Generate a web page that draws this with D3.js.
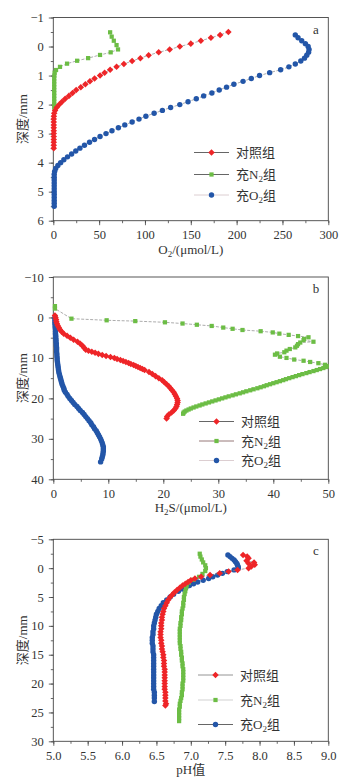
<!DOCTYPE html>
<html>
<head>
<meta charset="utf-8">
<script src="https://cdn.jsdelivr.net/npm/d3@7"></script>
<style>
  body { margin: 0; background: #fff; }
  svg text { font-family: "Liberation Serif", "Noto Sans CJK SC", serif; fill: #333; }
</style>
</head>
<body>
<svg id="viz" width="345" height="782"></svg>
<script>
// series labels
var groups = ["对照组", "充N2组", "充O2组"];

// panel a: O2 (umol/L) by depth (mm), pairs [depth, value]
var aCtrl = [[-0.5,191],[-0.4,182],[-0.3,172],[-0.2,161],[-0.1,150],[0,138],[0.1,127],[0.2,115],[0.3,104],[0.4,95],[0.5,86],[0.6,77],[0.7,69],[0.8,62],[0.9,56],[1.0,51],[1.1,45],[1.2,40],[1.3,35],[1.4,30],[1.5,25],[1.6,21],[1.7,17],[1.8,13],[1.9,9.5],[2.0,6.5],[2.1,3.7],[2.2,1.9],[2.3,1],[2.4,0.6],[2.5,0.5],[2.6,0.5],[2.7,0.5],[2.8,0.5],[2.9,0.5],[3.0,0.5],[3.1,0.5],[3.2,0.5],[3.3,0.5],[3.4,0.5],[3.5,0.5]];
var aN2 = [[-0.49,62],[-0.34,63.7],[-0.2,66],[-0.05,69],[0.1,70.6],[0.2,62.6],[0.29,51],[0.4,38],[0.49,26],[0.59,15],[0.7,7.3],[0.81,3],[0.9,1.5],[1.0,1.2],[1.1,1],[1.2,1],[1.3,1],[1.4,1],[1.5,1],[1.6,1],[1.7,1],[1.8,1],[1.9,1],[2.0,1],[2.1,1]];
var aO2 = [[-0.4,264],[-0.3,267],[-0.2,271],[-0.1,275],[0,278],[0.1,279],[0.2,278.5],[0.3,276.5],[0.4,274],[0.5,270],[0.6,264],[0.7,257],[0.8,248],[0.9,236],[1.0,225],[1.1,216],[1.2,207],[1.3,197],[1.4,189],[1.5,181],[1.6,173],[1.7,164],[1.8,156],[1.9,147],[2.0,138],[2.1,128],[2.2,119],[2.3,110],[2.4,101],[2.5,93.5],[2.6,86],[2.7,78],[2.8,71],[2.9,64],[3.0,57.5],[3.1,51],[3.2,45],[3.3,39.5],[3.4,34],[3.5,29],[3.6,24.5],[3.7,20],[3.8,15.5],[3.9,11.5],[4.0,8],[4.1,5],[4.2,2.6],[4.3,1.5],[4.4,1],[4.5,1],[4.6,1],[4.7,1],[4.8,1],[4.9,1],[5.0,1],[5.1,1],[5.2,1],[5.3,1],[5.4,1],[5.5,1]];

// panel b: H2S (umol/L) by depth (mm)
var bCtrl = [[-0.5,0.3],[0,0.4],[0.5,0.5],[1,0.55],[1.5,0.65],[2,0.8],[2.5,1.0],[3,1.2],[3.5,1.5],[4,1.9],[4.5,2.5],[5,3.1],[5.5,3.7],[6,4.4],[6.5,4.9],[7,5.3],[7.5,5.6],[8,5.9],[8.25,6.4],[8.5,7.0],[8.75,7.6],[9,8.2],[9.25,8.9],[9.5,9.6],[9.75,10.4],[10,11.1],[10.25,11.6],[10.5,12.2],[10.75,12.7],[11,13.2],[11.25,13.7],[11.5,14.1],[11.75,14.6],[12,15.0],[12.25,15.4],[12.5,15.8],[12.75,16.2],[13,16.6],[13.5,17.4],[14,18.0],[14.5,18.6],[15,19.2],[15.5,19.8],[16,20.2],[16.5,20.6],[17,21.0],[17.5,21.3],[18,21.6],[18.5,21.9],[19,22.1],[19.5,22.3],[20,22.5],[20.5,22.6],[21,22.6],[21.5,22.5],[22,22.4],[22.5,22.2],[23,21.9],[23.5,21.5],[24,21.0],[24.5,20.7],[25,20.6]];
var bN2 = [[-2.8,0.3],[-2.2,0.3],[0.3,3.3],[0.7,9.7],[0.9,14.9],[1.2,20.3],[1.5,23.5],[1.8,26.1],[2.1,28.8],[2.5,30.9],[2.8,32.6],[3.1,34.4],[3.4,37.7],[3.7,39.9],[4.0,41.1],[4.3,42.8],[4.6,44.5],[4.9,46.4],[5.3,45.6],[5.6,45.5],[6.0,47.3],[6.2,44.9],[6.6,44.5],[7.0,44.3],[7.4,44.0],[7.8,43.0],[8.2,42.4],[8.6,42.0],[8.9,40.7],[9.2,40.3],[9.7,41.2],[10.0,42.4],[10.4,43.8],[10.7,45.5],[11.0,46.7],[11.3,48.2],[11.7,49.4],[12.0,49.7],[12.25,49.6],[12.5,49.1],[12.75,48.5],[13,47.9],[13.25,47.3],[13.5,46.6],[13.75,46.0],[14,45.3],[14.25,44.7],[14.5,44.1],[14.75,43.5],[15,42.9],[15.25,42.3],[15.5,41.8],[15.75,41.2],[16,40.6],[16.25,40.0],[16.5,39.4],[16.75,38.8],[17,38.3],[17.25,37.7],[17.5,37.1],[17.75,36.4],[18,35.8],[18.25,35.1],[18.5,34.5],[18.75,33.9],[19,33.2],[19.25,32.6],[19.5,31.9],[19.75,31.3],[20,30.7],[20.25,30.1],[20.5,29.5],[20.75,28.9],[21,28.3],[21.25,27.7],[21.5,27.1],[21.75,26.6],[22,26.0],[22.25,25.5],[22.5,25.0],[22.75,24.6],[23,24.2],[23.25,23.9],[23.5,23.7],[23.8,23.6]];
var bO2 = [[0,0.3],[0.5,0.3],[1,0.3],[1.5,0.3],[2,0.35],[2.5,0.35],[3,0.4],[3.5,0.4],[4,0.4],[4.5,0.45],[5,0.45],[5.5,0.5],[6,0.5],[6.5,0.55],[7,0.55],[7.5,0.6],[8,0.6],[8.5,0.6],[9,0.65],[9.5,0.65],[10,0.7],[10.5,0.7],[11,0.75],[11.5,0.8],[12,0.85],[12.5,0.9],[13,0.95],[13.5,1.0],[14,1.1],[14.5,1.2],[15,1.3],[15.5,1.4],[16,1.5],[16.5,1.6],[17,1.75],[17.5,1.9],[18,2.0],[18.5,2.2],[19,2.5],[19.5,2.7],[20,3.0],[20.5,3.3],[21,3.6],[21.5,3.9],[22,4.3],[22.5,4.6],[23,4.9],[23.5,5.3],[24,5.6],[24.5,5.9],[25,6.2],[25.5,6.5],[26,6.8],[26.5,7.0],[27,7.3],[27.5,7.5],[28,7.8],[28.5,8.0],[29,8.2],[29.5,8.4],[30,8.6],[30.5,8.75],[31,8.9],[31.5,9.0],[32,9.1],[32.5,9.1],[33,9.1],[33.5,9.05],[34,9.0],[34.5,8.9],[35,8.8],[35.7,8.6]];

// panel c: pH by depth (mm)
var cCtrl = [[-2.3,7.76],[-2.0,7.82],[-1.7,7.84],[-1.3,7.81],[-1.0,7.92],[-0.8,7.84],[-0.6,7.93],[-0.3,7.88],[0,7.84],[0.3,7.68],[0.6,7.55],[0.9,7.42],[1.2,7.28],[1.5,7.15],[1.8,7.06],[2.1,7.0],[2.4,6.96],[2.7,6.92],[3.0,6.88],[3.4,6.84],[3.8,6.80],[4.2,6.76],[4.6,6.73],[5.0,6.7],[5.5,6.67],[6.0,6.65],[6.5,6.63],[7.0,6.61],[7.5,6.6],[8.0,6.59],[8.5,6.58],[9,6.58],[9.5,6.57],[10,6.57],[10.5,6.57],[11,6.56],[11.5,6.56],[12,6.56],[12.5,6.57],[13,6.57],[13.5,6.58],[14,6.58],[14.5,6.59],[15,6.6],[15.5,6.6],[16,6.61],[16.5,6.61],[17,6.61],[17.5,6.62],[18,6.62],[18.5,6.62],[19,6.62],[19.5,6.62],[20,6.62],[20.5,6.62],[21,6.62],[21.5,6.63],[22,6.63],[22.5,6.63],[23,6.63],[23.5,6.64],[23.8,6.63]];
var cN2 = [[-2.5,7.13],[-2.0,7.14],[-1.5,7.16],[-1.0,7.18],[-0.5,7.21],[0,7.22],[0.5,7.21],[1.0,7.17],[1.5,7.12],[2.0,7.04],[2.5,6.97],[3.0,6.94],[3.5,6.93],[4.0,6.92],[4.5,6.91],[5,6.9],[5.5,6.9],[6,6.89],[6.5,6.89],[7,6.88],[7.5,6.87],[8,6.87],[8.5,6.86],[9,6.86],[9.5,6.85],[10,6.85],[10.5,6.84],[11,6.84],[11.5,6.84],[12,6.84],[12.5,6.84],[13,6.84],[13.5,6.85],[14,6.85],[14.5,6.86],[15,6.86],[15.5,6.87],[16,6.87],[16.5,6.88],[17,6.88],[17.5,6.89],[18,6.89],[18.5,6.89],[19,6.89],[19.5,6.89],[20,6.88],[20.5,6.88],[21,6.88],[21.5,6.87],[22,6.87],[22.5,6.86],[23,6.85],[23.5,6.84],[24,6.84],[24.5,6.83],[25,6.83],[25.5,6.83],[26,6.83],[26.5,6.83]];
var cO2 = [[-2.3,7.54],[-2.0,7.57],[-1.7,7.6],[-1.4,7.63],[-1.1,7.65],[-0.8,7.67],[-0.5,7.68],[-0.2,7.69],[0,7.69],[0.3,7.63],[0.6,7.53],[0.9,7.46],[1.2,7.39],[1.5,7.32],[1.8,7.26],[2.1,7.18],[2.4,7.1],[2.7,7.04],[3.0,6.98],[3.3,6.93],[3.6,6.88],[4.0,6.82],[4.5,6.75],[5.0,6.7],[5.5,6.65],[6.0,6.6],[6.5,6.57],[7.0,6.54],[7.5,6.52],[8.0,6.5],[8.5,6.49],[9,6.48],[9.5,6.47],[10,6.46],[10.5,6.46],[11,6.45],[11.5,6.45],[12,6.44],[12.5,6.44],[13,6.44],[13.5,6.45],[14,6.45],[14.5,6.45],[15,6.46],[15.5,6.46],[16,6.46],[16.5,6.46],[17,6.46],[17.5,6.46],[18,6.46],[18.5,6.46],[19,6.46],[19.5,6.46],[20,6.46],[20.5,6.46],[21,6.46],[21.5,6.47],[22,6.47],[22.5,6.47],[23.1,6.47]];

// axis ticks
var aXTicks = [0, 50, 100, 150, 200, 250, 300];
var aYTicks = [-1, 0, 1, 2, 3, 4, 5, 6];
var bXTicks = [0, 10, 20, 30, 40, 50];
var bYTicks = [-10, 0, 10, 20, 30, 40];
var cXTicks = [5.0, 5.5, 6.0, 6.5, 7.0, 7.5, 8.0, 8.5, 9.0];
var cYTicks = [-5, 0, 5, 10, 15, 20, 25, 30];

var colors = ["#ee2528", "#6cbd45", "#2356a8"];
var svg = d3.select("#viz");
var L = 53.3, R = 328.3;

var panels = [
    { top: 17.5, bottom: 220.7, x: [0, 300], xt: aXTicks, xm: 25, y: [-1, 6], yt: aYTicks, ym: 0.5,
      fmt: d3.format("d"), series: [aCtrl, aN2, aO2], letter: "a",
      xlab: ["O", "2", "/(μmol/L)"], legY: [152.5, 174.5, 195], legX: 194,
      legLine: ["#555", "#555", "#d8c8cc"] },
    { top: 277, bottom: 479.3, x: [0, 50], xt: bXTicks, xm: 5, y: [-10, 40], yt: bYTicks, ym: 5,
      fmt: d3.format("d"), series: [bCtrl, bN2, bO2], letter: "b",
      xlab: ["H", "2", "S/(μmol/L)"], legY: [421.5, 441, 460.5], legX: 199,
      legLine: ["#555", "#8a6a6a", "#d8c8cc"] },
    { top: 539.3, bottom: 741.3, x: [5, 9], xt: cXTicks, xm: 0.25, y: [-5, 30], yt: cYTicks, ym: 2.5,
      fmt: d3.format(".1f"), series: [cCtrl, cN2, cO2], letter: "c",
      xlab: ["pH值", "", ""], legY: [675, 700, 724.5], legX: 198,
      legLine: ["#888", "#ccc", "#555"] }
];

function minors(dom, step) {
    var out = [];
    for (var v = dom[0]; v <= dom[1] + 1e-9; v += step) out.push(+v.toFixed(4));
    return out;
}

function marker(i) {
    if (i == 0) return d3.symbol().type(d3.symbolDiamond2).size(27)();
    if (i == 1) return d3.symbol().type(d3.symbolSquare).size(18)();
    return d3.symbol().type(d3.symbolCircle).size(23)();
}

panels.forEach(function (p) {
    var x = d3.scaleLinear().domain(p.x).range([L, R]);
    var y = d3.scaleLinear().domain(p.y).range([p.top, p.bottom]);
    var g = svg.append("g");

    // minor ticks
    g.append("g").attr("transform", "translate(0," + p.bottom + ")")
        .call(d3.axisBottom(x).tickValues(minors(p.x, p.xm)).tickSize(2.5).tickFormat(""));
    g.append("g").attr("transform", "translate(" + L + ",0)")
        .call(d3.axisLeft(y).tickValues(minors(p.y, p.ym)).tickSize(2.5).tickFormat(""));
    // major ticks
    g.append("g").attr("transform", "translate(0," + p.bottom + ")")
        .call(d3.axisBottom(x).tickValues(p.xt).tickSize(4.5).tickPadding(5).tickFormat(p.fmt));
    g.append("g").attr("transform", "translate(" + L + ",0)")
        .call(d3.axisLeft(y).tickValues(p.yt).tickSize(4.5).tickPadding(5).tickFormat(d3.format("d")));
    g.selectAll(".domain").remove();
    g.selectAll(".tick line").attr("stroke", "#444").attr("stroke-width", 0.8);
    g.selectAll(".tick text").style("font-size", "12.5px").attr("fill", "#333")
        .style("font-family", "'Liberation Serif', serif");

    // frame
    g.append("rect").attr("x", L).attr("y", p.top).attr("width", R - L).attr("height", p.bottom - p.top)
        .attr("fill", "none").attr("stroke", "#444").attr("stroke-width", 0.9);

    // series: blue, green, red order so red is on top
    var line = d3.line().x(function (d) { return x(d[1]); }).y(function (d) { return y(d[0]); });
    [2, 1, 0].forEach(function (i) {
        var s = p.series[i];
        g.append("path").datum(s).attr("d", line).attr("fill", "none")
            .attr("stroke", "#888").attr("stroke-width", 0.7).attr("stroke-dasharray", "3,1.5");
        g.append("g").selectAll("path").data(s).enter().append("path")
            .attr("d", marker(i))
            .attr("transform", function (d) { return "translate(" + x(d[1]) + "," + y(d[0]) + ")"; })
            .attr("fill", colors[i]);
    });

    // panel letter
    g.append("text").attr("x", 316).attr("y", p.top + 16).attr("text-anchor", "middle")
        .style("font-size", "13px").text(p.letter);

    // y title
    g.append("text").attr("transform", "translate(27," + ((p.top + p.bottom) / 2) + ") rotate(-90)")
        .attr("text-anchor", "middle").style("font-size", "13px").text("深度/mm");

    // x title
    var xt = g.append("text").attr("x", (L + R) / 2).attr("y", p.bottom + 33)
        .attr("text-anchor", "middle").style("font-size", "13px");
    xt.append("tspan").text(p.xlab[0]);
    if (p.xlab[1]) {
        xt.append("tspan").attr("dy", 3).style("font-size", "9px").text(p.xlab[1]);
        xt.append("tspan").attr("dy", -3).text(p.xlab[2]);
    }

    // legend
    groups.forEach(function (name, i) {
        var ly = p.legY[i];
        g.append("line").attr("x1", p.legX).attr("x2", p.legX + 35).attr("y1", ly).attr("y2", ly)
            .attr("stroke", p.legLine[i]).attr("stroke-width", 0.9);
        g.append("path").attr("d", marker(i))
            .attr("transform", "translate(" + (p.legX + 17.5) + "," + ly + ")")
            .attr("fill", colors[i]);
        var t = g.append("text").attr("x", p.legX + 42).attr("y", ly + 4.5).style("font-size", "13px");
        if (i == 0) {
            t.text(name);
        } else {
            t.append("tspan").text(name.slice(0, 2));
            t.append("tspan").attr("dy", 3).style("font-size", "9px").text("2");
            t.append("tspan").attr("dy", -3).text("组");
        }
    });
});
</script>
</body>
</html>
